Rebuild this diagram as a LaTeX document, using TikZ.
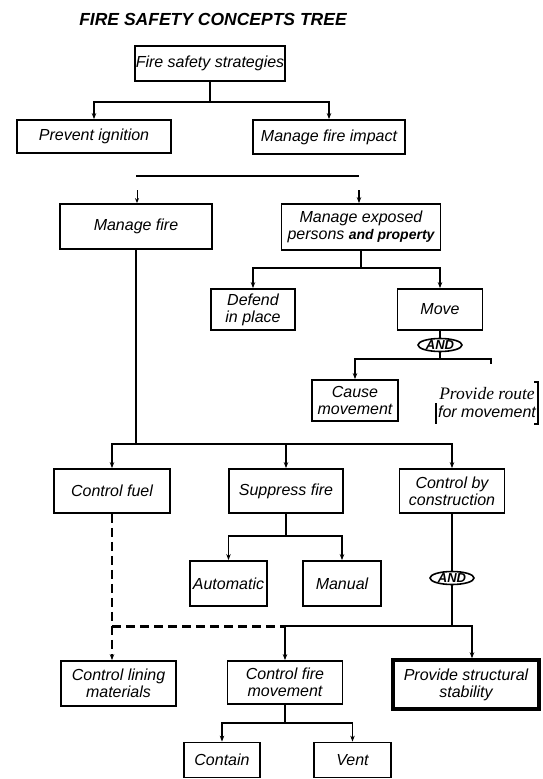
\documentclass[tikz,border=0pt]{standalone}
\usepackage{fontspec}
\setmainfont{Liberation Sans}
\newfontfamily\timesfont{Liberation Serif}
\usetikzlibrary{arrows.meta,shapes.geometric}
\begin{document}
\begin{tikzpicture}[x=1pt,y=-1pt,
  box/.style={draw, rectangle, line width=1.8pt, inner sep=0pt, align=center,
    font=\fontsize{16}{17}\selectfont\itshape},
  conn/.style={line width=1.8pt},
  arr/.style={line width=1.8pt, -{Stealth[length=6pt,width=4.5pt]}},
  andnode/.style={draw, ellipse, line width=1.6pt, inner sep=0pt,
    minimum width=44pt, minimum height=13pt, text height=9pt, text depth=0pt,
    font=\fontsize{13}{13}\selectfont\bfseries\itshape},
  dashedconn/.style={line width=2.4pt, dash pattern=on 9pt off 5pt},
]
\useasboundingbox (0,0) rectangle (542,779);

% title
\node[font=\fontsize{17.5}{20}\selectfont\bfseries\itshape] (title) at (213,19) {FIRE SAFETY CONCEPTS TREE};

% nodes
\node[box, minimum width=150pt, minimum height=35pt] (fss) at (210,63.5) {Fire safety strategies};
\node[box, minimum width=154pt, minimum height=33pt] (prevent) at (94,136.5) {Prevent ignition};
\node[box, minimum width=152pt, minimum height=34pt] (impact) at (329,137) {Manage fire impact};

\node[box, minimum width=152pt, minimum height=45pt] (mfire) at (136,226.5) {Manage fire};
\node[box, minimum width=159pt, minimum height=46pt] (mexp) at (361,227) {Manage exposed\\persons {\bfseries\fontsize{14}{17}\selectfont and property}};

\node[box, minimum width=84pt, minimum height=41pt] (defend) at (253,309.5) {Defend\\in place};
\node[box, minimum width=85pt, minimum height=41pt] (move) at (440,309.5) {Move};
\node[andnode] (and1) at (440,345) {AND};
\node[box, minimum width=86pt, minimum height=41pt] (cause) at (355,400.5) {Cause\\movement};
\node[inner xsep=2pt, inner ysep=0pt, minimum height=42pt, align=center,
  font=\fontsize{16}{18}\selectfont\itshape] (route) at (487,403) {{\timesfont\itshape\fontsize{17.5}{18}\selectfont Provide route}\\for movement};

\node[box, minimum width=116pt, minimum height=44pt] (cfuel) at (112,491) {Control fuel};
\node[box, minimum width=114pt, minimum height=44pt] (supp) at (286,491) {Suppress fire};
\node[box, minimum width=105pt, minimum height=44pt] (cbc) at (452,491) {Control by\\construction};

\node[box, minimum width=77pt, minimum height=45pt] (auto) at (228.5,583.5) {Automatic};
\node[box, minimum width=78pt, minimum height=45pt] (manual) at (342,583.5) {Manual};
\node[andnode] (and2) at (452,578) {AND};

\node[box, minimum width=115pt, minimum height=45pt] (clm) at (118.5,683.5) {Control lining\\materials};
\node[box, minimum width=115pt, minimum height=43pt] (cfm) at (285,682.5) {Control fire\\movement};
\node[box, line width=3.5pt, minimum width=146pt, minimum height=49pt] (pss) at (466,684.5) {Provide structural\\stability};

\node[box, minimum width=76pt, minimum height=35pt] (contain) at (222,760) {Contain};
\node[box, minimum width=77pt, minimum height=35pt] (vent) at (352.5,760) {Vent};

% connectors: top
\draw[arr] (fss.south) -- ++(0,20) -| (prevent.north);
\draw[arr] (fss.south) -- ++(0,20) -| (impact.north);

% free horizontal line and stubs
\coordinate (lnL) at (136,176);
\coordinate (lnR) at (359,176);
\draw[conn] (lnL) -- (lnR);
\coordinate (s1) at (137,190);
\coordinate (s2) at (359,190);
\draw[line width=1pt, -{Stealth[length=5pt,width=4pt]}] (s1) -- (s1 |- mfire.north);
\draw[arr] (s2) -- (s2 |- mexp.north);

% manage exposed
\draw[arr] (mexp.south) -- ++(0,17) -| (defend.north);
\draw[arr] (mexp.south) -- ++(0,17) -| (move.north);
\draw[conn] (move.south) -- (and1.north);
\draw[arr] (and1.south) -- ++(0,7) -| (cause.north);
\coordinate (rstub) at (491,364);
\draw[conn] (and1.south) -- ++(0,7) -| (rstub);

% route brackets
\draw[line width=1.8pt] ([xshift=-4pt]route.north east) -- (route.north east) -- (route.south east) -- ([xshift=-4pt]route.south east);
\draw[line width=1.4pt] (route.west) -- (route.south west);

% manage fire
\draw[arr] (mfire.south) -- ++(0,194) -| (cfuel.north);
\draw[arr] (mfire.south) -- ++(0,194) -| (supp.north);
\draw[arr] (mfire.south) -- ++(0,194) -| (cbc.north);

% suppress fire
\draw[arr] (supp.south) -- ++(0,22) -| (auto.north);
\draw[arr] (supp.south) -- ++(0,22) -| (manual.north);

% control by construction
\draw[conn] (cbc.south) -- (and2.north);
\path (and2.south) ++(0,41) coordinate (j5);
\draw[arr] (and2.south) -- (j5) -| (cfm.north);
\draw[arr] (and2.south) -- (j5) -| ([xshift=6pt]pss.north);

% control fuel (dashed)
\draw[dashedconn, -{Stealth[length=6pt,width=4.5pt]}] (cfuel.south) -- (cfuel.south |- clm.north);
\draw[dashedconn] (cfuel.south |- j5) -- (cfm.north |- j5);

% control fire movement
\draw[arr] (cfm.south) -- ++(0,18) -| (contain.north);
\draw[arr] (cfm.south) -- ++(0,18) -| (vent.north);
\end{tikzpicture}
\end{document}
